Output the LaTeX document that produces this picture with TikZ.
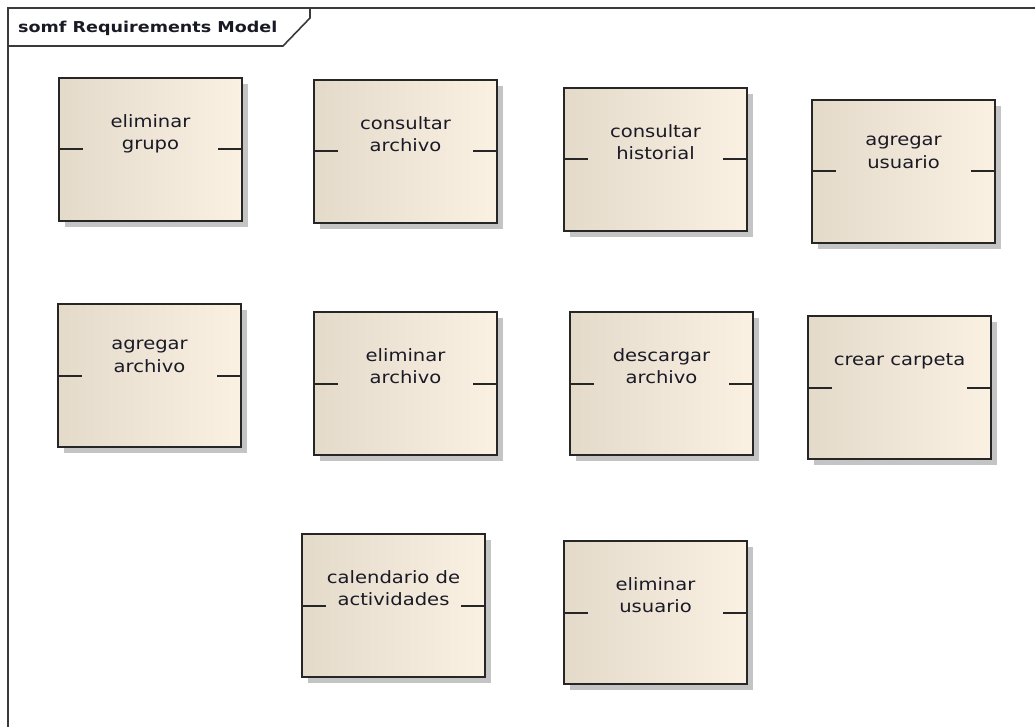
\documentclass[tikz,border=0pt]{standalone}
\usepackage{fontspec}
\usetikzlibrary{shadows}
\newfontfamily\boxfont[FakeStretch=1.15]{DejaVu Sans}
\newfontfamily\titlefont[FakeStretch=1.17]{DejaVu Sans}
\definecolor{boxleft}{HTML}{E4DACA}
\definecolor{boxright}{HTML}{FBF1E3}
\definecolor{edge}{HTML}{262626}
\definecolor{shadowgray}{HTML}{C4C4C4}
\definecolor{framegray}{HTML}{3A3A3A}
\definecolor{textdark}{HTML}{1A1A26}
\tikzset{
  reqbox/.style={draw=edge, line width=2pt, left color=boxleft, right color=boxright,
    minimum width=183pt, minimum height=143pt, inner sep=0pt, anchor=north west,
    general shadow={shadow xshift=6pt, shadow yshift=-6pt, fill=shadowgray}},
  reqtext/.style={anchor=north, inner sep=0pt, align=center, text=textdark,
    font=\boxfont\fontsize{17}{22.5}\selectfont, execute at begin node={\rule{0pt}{13pt}}},
  tick/.style={draw=edge, line width=2pt},
  frameline/.style={draw=framegray, line width=1.6pt}
}
\newcommand{\reqitem}[4]{%
  \node[reqbox] (b#1) at (#2,#3) {};
  \node[reqtext] (t#1) at ([yshift=-37pt]b#1.north) {#4};
  \draw[tick] (b#1.west) -- ([xshift=25pt]b#1.west);
  \draw[tick] (b#1.east) -- ([xshift=-25pt]b#1.east);
}
\begin{document}
\begin{tikzpicture}[x=1pt,y=-1pt]
\useasboundingbox[fill=white] (0,0) rectangle (1035,727);
% frame
\coordinate (fTL) at (8,8);
\coordinate (fTR) at (1035,8);
\coordinate (fBL) at (8,727);
\draw[frameline] (fTR) -- (fTL) -- (fBL);
\coordinate (tabA) at (8,46);
\coordinate (tabB) at (283,46);
\coordinate (tabC) at (310,18);
\coordinate (tabD) at (310,8);
\draw[frameline] (tabA) -- (tabB) -- (tabC) -- (tabD);
\node[anchor=base west, inner sep=0pt, text=textdark, font=\titlefont\bfseries\fontsize{15}{18}\selectfont] (title) at (18,33) {somf Requirements Model};
% boxes
\reqitem{1}{58}{77}{eliminar\\grupo}
\reqitem{2}{313}{79}{consultar\\archivo}
\reqitem{3}{563}{87}{consultar\\historial}
\reqitem{4}{811}{99}{agregar\\usuario}
\reqitem{5}{57}{303}{agregar\\archivo}
\reqitem{6}{313}{311}{eliminar\\archivo}
\reqitem{7}{569}{311}{descargar\\archivo}
\reqitem{8}{807}{315}{crear carpeta}
\reqitem{9}{301}{533}{calendario de\\actividades}
\reqitem{10}{563}{540}{eliminar\\usuario}
\end{tikzpicture}
\end{document}
